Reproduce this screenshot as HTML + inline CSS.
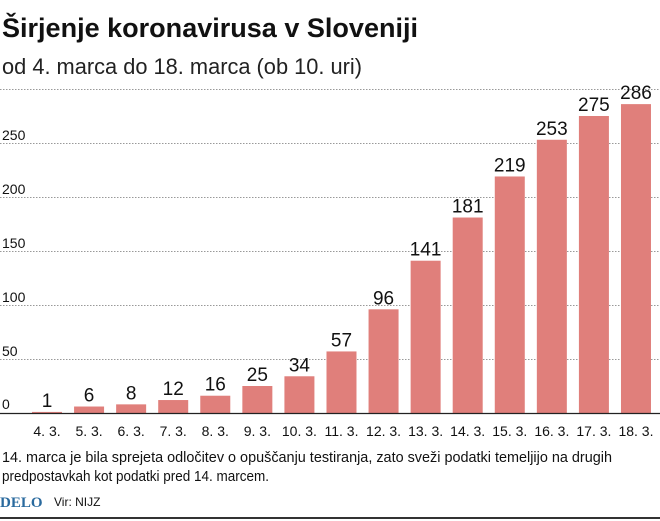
<!DOCTYPE html>
<html><head><meta charset="utf-8"><style>
body{margin:0;background:#fff;font-family:"Liberation Sans",sans-serif}
#wrap{position:relative;width:660px;height:521px;overflow:hidden}
</style></head><body>
<div id="wrap">
<svg id="chart" width="660" height="521">
<text x="2" y="37" font-size="27" font-weight="bold" fill="#111" textLength="416" lengthAdjust="spacingAndGlyphs">Širjenje koronavirusa v Sloveniji</text>
<text x="2" y="74" font-size="22" fill="#222" textLength="360" lengthAdjust="spacingAndGlyphs">od 4. marca do 18. marca (ob 10. uri)</text>
<g id="grid"></g><g id="bars"></g>
<line x1="0" y1="413.5" x2="660" y2="413.5" stroke="#222" stroke-width="1.2"/>
<text x="2" y="462" font-size="14.5" fill="#111" textLength="610" lengthAdjust="spacingAndGlyphs">14. marca je bila sprejeta odločitev o opuščanju testiranja, zato sveži podatki temeljijo na drugih</text>
<text x="2" y="481" font-size="14.5" fill="#111" textLength="267" lengthAdjust="spacingAndGlyphs">predpostavkah kot podatki pred 14. marcem.</text>
<text x="0" y="507" font-size="15" font-weight="bold" fill="#2a6a9e" font-family="Liberation Serif, serif">DELO</text>
<text x="54" y="506" font-size="12" fill="#111">Vir: NIJZ</text>
<line x1="0" y1="518" x2="660" y2="518" stroke="#333" stroke-width="2"/>
</svg>
</div>
<script>
const categories=["4. 3.","5. 3.","6. 3.","7. 3.","8. 3.","9. 3.","10. 3.","11. 3.","12. 3.","13. 3.","14. 3.","15. 3.","16. 3.","17. 3.","18. 3."];
const values=[1,6,8,12,16,25,34,57,96,141,181,219,253,275,286];
const yTicks=[0,50,100,150,200,250,300];
const NS="http://www.w3.org/2000/svg";
const y0=413,yScale=54/50;
function y(v){return y0-v*yScale;}
function x(i){return 47+i*42.07;}
const grid=document.getElementById('grid'),bars=document.getElementById('bars');
yTicks.forEach(t=>{
  if(t>0){const l=document.createElementNS(NS,'line');
  l.setAttribute('x1',0);l.setAttribute('x2',660);l.setAttribute('y1',y(t)+0.5);l.setAttribute('y2',y(t)+0.5);
  l.setAttribute('stroke','#999');l.setAttribute('stroke-dasharray','1.5 1.5');
  
  
  grid.appendChild(l);}
  if(t<300){const tx=document.createElementNS(NS,'text');
  tx.setAttribute('x',2);tx.setAttribute('y',t===0?y(t)-4:y(t)-3);tx.setAttribute('font-size','14');
  tx.setAttribute('fill','#111');
  tx.textContent=t;
  
  
  grid.appendChild(tx);}
});
values.forEach((v,i)=>{
  const r=document.createElementNS(NS,'rect');
  r.setAttribute('x',x(i)-15);r.setAttribute('width',30);r.setAttribute('y',y(v));r.setAttribute('height',Math.max(v*yScale,1));
  r.setAttribute('fill','#e07f7b');
  
  
  bars.appendChild(r);
  const t=document.createElementNS(NS,'text');
  t.setAttribute('x',x(i));t.setAttribute('y',y(v)-5);t.setAttribute('text-anchor','middle');t.setAttribute('font-size','19');
  t.setAttribute('fill','#111');
  t.textContent=v;
  
  
  bars.appendChild(t);
  const c=document.createElementNS(NS,'text');
  c.setAttribute('x',x(i));c.setAttribute('y',436);c.setAttribute('text-anchor','middle');c.setAttribute('font-size','14');
  c.setAttribute('fill','#111');
  c.textContent=categories[i];
  
  
  bars.appendChild(c);
});
</script>
</body></html>
